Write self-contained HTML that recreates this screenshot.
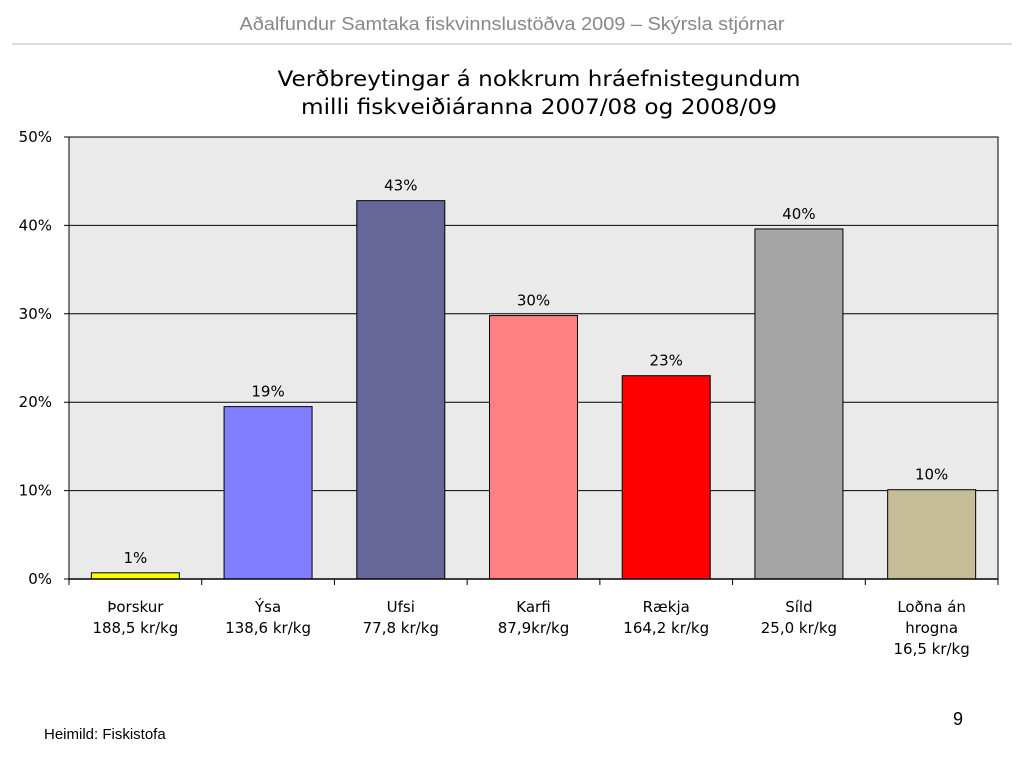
<!DOCTYPE html>
<html><head><meta charset="utf-8"><style>
body{margin:0;background:#fff;width:1024px;height:768px;overflow:hidden}
svg{display:block}
</style></head><body>
<svg width="1024" height="768" xmlns="http://www.w3.org/2000/svg">
<text x="512" y="30" text-anchor="middle" font-family="Liberation Sans, sans-serif" font-size="18" fill="#888" textLength="545" lengthAdjust="spacingAndGlyphs">Aðalfundur Samtaka fiskvinnslustöðva 2009 – Skýrsla stjórnar</text>
<line x1="12" y1="44" x2="1012" y2="44" stroke="#d0d0d0" stroke-width="1.5"/>
<text x="539" y="86" text-anchor="middle" font-family="DejaVu Sans, sans-serif" font-size="21" fill="#000" textLength="523" lengthAdjust="spacingAndGlyphs">Verðbreytingar á nokkrum hráefnistegundum</text>
<text x="539" y="114" text-anchor="middle" font-family="DejaVu Sans, sans-serif" font-size="21" fill="#000" textLength="476" lengthAdjust="spacingAndGlyphs">milli fiskveiðiáranna 2007/08 og 2008/09</text>
<g id="chart"></g>
<text x="44" y="739" font-family="Liberation Sans, sans-serif" font-size="15" fill="#000">Heimild: Fiskistofa</text>
<text x="963" y="725" text-anchor="end" font-family="Liberation Sans, sans-serif" font-size="18" fill="#000">9</text>
</svg>
<script>
const categories = [["Þorskur","188,5 kr/kg"],["Ýsa","138,6 kr/kg"],["Ufsi","77,8 kr/kg"],["Karfi","87,9kr/kg"],["Rækja","164,2 kr/kg"],["Síld","25,0 kr/kg"],["Loðna án","hrogna","16,5 kr/kg"]];
const values = [0.7, 19.5, 42.8, 29.8, 23.0, 39.6, 10.1];
const valueLabels = ["1%","19%","43%","30%","23%","40%","10%"];
const colors = ["#ffff00","#8080ff","#666699","#ff8080","#ff0000","#a5a5a5","#c4bd97"];
const ticks = [0,10,20,30,40,50];

const NS="http://www.w3.org/2000/svg";
const g=document.getElementById('chart');
const X0=69,X1=998,Y0=579,Y1=137,MAX=50;
const y=v=>Y0-(v/MAX)*(Y0-Y1);
const band=(X1-X0)/categories.length;
const xc=i=>X0+band*(i+0.5);
function mk(t,a){const e=document.createElementNS(NS,t);for(const k in a)e.setAttribute(k,a[k]);g.appendChild(e);return e;}
let bg=mk('rect',{x:X0,y:Y1,width:X1-X0,height:Y0-Y1,fill:'#eaeaea',stroke:'#000','stroke-width':1});


ticks.forEach(t=>{
  let l=mk('line',{x1:X0-5,x2:X1,y1:y(t),y2:y(t),stroke:'#000','stroke-width':1});
  
  
  let tx=mk('text',{x:X0-17,y:y(t)+5,'text-anchor':'end','font-family':'DejaVu Sans, sans-serif','font-size':15});
  tx.textContent=t+'%';
  
  
});
for(let i=0;i<=categories.length;i++){
  let l=mk('line',{x1:X0+band*i,x2:X0+band*i,y1:Y0,y2:Y0+6,stroke:'#000'});
  
  
}
values.forEach((v,i)=>{
  const w=88;
  let r=mk('rect',{x:xc(i)-w/2,y:y(v),width:w,height:Y0-y(v),fill:colors[i],stroke:'#000','stroke-width':1});
  
  
  let t=mk('text',{x:xc(i),y:y(v)-10,'text-anchor':'middle','font-family':'DejaVu Sans, sans-serif','font-size':15});
  t.textContent=valueLabels[i];
  
  
  categories[i].forEach((s,j)=>{
    let c=mk('text',{x:xc(i),y:612+j*21,'text-anchor':'middle','font-family':'DejaVu Sans, sans-serif','font-size':15});
    c.textContent=s;
    
    
  });
});
let ax=mk('line',{x1:X0,x2:X1,y1:Y0,y2:Y0,stroke:'#000','stroke-width':1.5});


</script>
</body></html>
